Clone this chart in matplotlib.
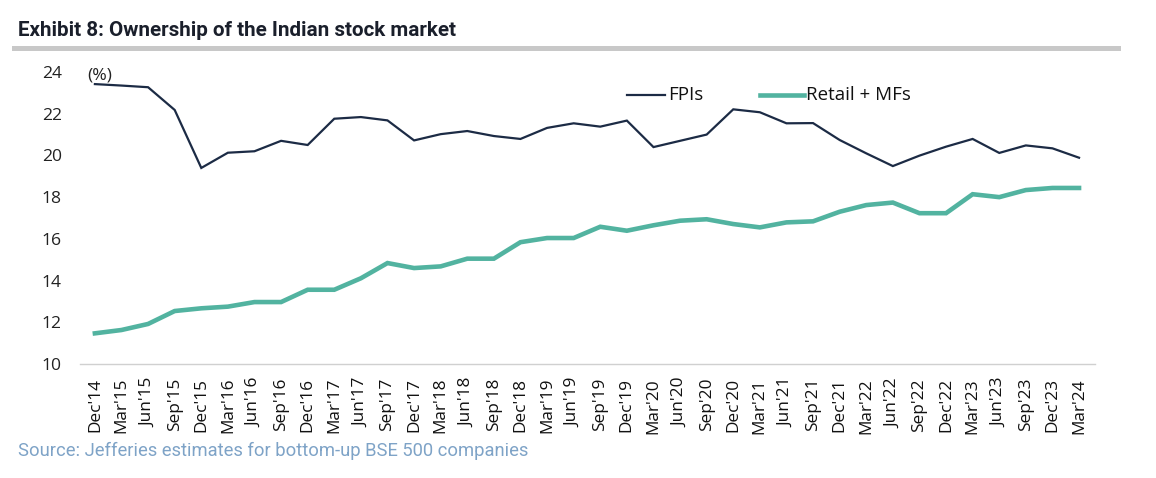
import matplotlib
matplotlib.use("Agg")
import matplotlib.pyplot as plt
from matplotlib.lines import Line2D
from matplotlib.patches import Rectangle

quarters = ["Dec'14", "Mar'15", "Jun'15", "Sep'15", "Dec'15", "Mar'16", "Jun'16", "Sep'16",
            "Dec'16", "Mar'17", "Jun'17", "Sep'17", "Dec'17", "Mar'18", "Jun'18", "Sep'18",
            "Dec'18", "Mar'19", "Jun'19", "Sep'19", "Dec'19", "Mar'20", "Jun'20", "Sep'20",
            "Dec'20", "Mar'21", "Jun'21", "Sep'21", "Dec'21", "Mar'22", "Jun'22", "Sep'22",
            "Dec'22", "Mar'23", "Jun'23", "Sep'23", "Dec'23", "Mar'24"]

fpis = [23.42, 23.35, 23.27, 22.18, 19.40, 20.13, 20.20, 20.70, 20.50, 21.76, 21.84, 21.68,
        20.72, 21.02, 21.17, 20.93, 20.79, 21.32, 21.54, 21.38, 21.67, 20.40, 20.70, 21.00,
        22.21, 22.07, 21.54, 21.55, 20.74, 20.10, 19.49, 19.99, 20.42, 20.79, 20.12, 20.48,
        20.34, 19.89]

retail_mfs = [11.47, 11.63, 11.92, 12.54, 12.67, 12.75, 12.97, 12.97, 13.56, 13.56, 14.11, 14.84,
              14.60, 14.68, 15.05, 15.05, 15.84, 16.04, 16.04, 16.58, 16.39, 16.65, 16.87, 16.94,
              16.71, 16.55, 16.79, 16.84, 17.30, 17.62, 17.74, 17.23, 17.23, 18.14, 18.00, 18.34,
              18.44, 18.44]

y_ticks = [10, 12, 14, 16, 18, 20, 22, 24]
series_names = ["FPIs", "Retail + MFs"]

W, H = 1156, 478
fig = plt.figure(figsize=(W / 100, H / 100), dpi=100)
fig.patch.set_facecolor("white")

ax_l, ax_r = 80 / W, 1095 / W
ax_b, ax_t = (H - 364) / H, (H - 72) / H
ax = fig.add_axes([ax_l, ax_b, ax_r - ax_l, ax_t - ax_b])

navy = "#1c2b45"
teal = "#52b3a0"
lw_fpi, lw_ret = 1.6, 3.3

x = list(range(len(quarters)))
ax.plot(x, fpis, color=navy, lw=lw_fpi, solid_joinstyle="miter")
ax.plot(x, retail_mfs, color=teal, lw=lw_ret, solid_joinstyle="miter")

ax.set_xlim(-0.56, len(quarters) - 1 + 0.6)
ax.set_ylim(10, 24)
ax.set_yticks(y_ticks)
ax.set_yticklabels([str(v) for v in y_ticks], fontsize=12.6, family="Open Sans", color="#222222")
ax.set_xticks(x)
ax.set_xticklabels(quarters, rotation=90, fontsize=12.4, family="Open Sans", color="#111111")
ax.tick_params(axis="y", length=0, pad=13)
ax.tick_params(axis="x", length=0, pad=10)
for s in ["left", "right", "top"]:
    ax.spines[s].set_visible(False)
ax.spines["bottom"].set_color("#d0d0d0")
ax.spines["bottom"].set_linewidth(1.0)
ax.set_facecolor("white")

ax.text(-0.3, 23.85, "(%)", fontsize=12.6, family="Open Sans", color="#222222",
        ha="left", va="center")

# legend drawn in figure coordinates
ly = (H - 95) / H
fig.add_artist(Line2D([627 / W, 665 / W], [ly, ly], color=navy, lw=lw_fpi, transform=fig.transFigure))
fig.text(668 / W, ly, series_names[0], fontsize=13.5, family="Open Sans", color="#111111",
         ha="left", va="center")
fig.add_artist(Line2D([760 / W, 804 / W], [ly, ly], color=teal, lw=lw_ret, transform=fig.transFigure))
fig.text(806 / W, ly, series_names[1], fontsize=13.5, family="Open Sans", color="#111111",
         ha="left", va="center")

# title and rule
fig.text(18 / W, (H - 31) / H, "Exhibit 8: Ownership of the Indian stock market",
         fontsize=14.9, fontweight="bold", family="Roboto", color="#1a1f2b",
         ha="left", va="center")
fig.add_artist(Rectangle((12 / W, (H - 51) / H), (1121 - 12) / W, 5 / H,
                         transform=fig.transFigure, color="#c8c8c8", lw=0))

fig.text(18 / W, (H - 451) / H, "Source: Jefferies estimates for bottom-up BSE 500 companies",
         fontsize=13.2, family="Roboto", color="#7ea3c7", ha="left", va="center")

fig.savefig("out.png", dpi=100, facecolor="white")
